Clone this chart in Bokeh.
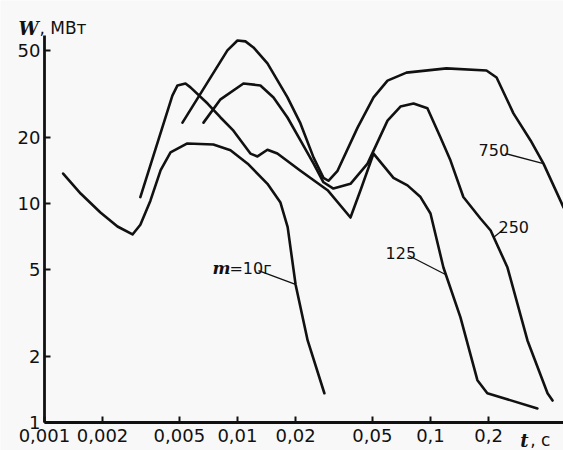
from bokeh.plotting import figure
from bokeh.models import FixedTicker, CustomJSTickFormatter, Label, Range1d
from bokeh.embed import file_html
from bokeh.resources import INLINE

# ---- data (t in s, W in MW) ----
t_m10 = [0.00125, 0.00154, 0.00195, 0.00239, 0.00286, 0.00314, 0.00354, 0.0040, 0.0045,
         0.0055, 0.0075, 0.0092, 0.0113, 0.0143, 0.0167, 0.0182, 0.0200, 0.0231, 0.0282]
W_m10 = [13.7, 11.1, 9.1, 7.85, 7.22, 8.0, 10.3, 14.2, 17.1,
         18.8, 18.6, 17.5, 15.2, 12.3, 10.1, 7.8, 4.27, 2.37, 1.36]

t_125 = [0.00314, 0.0046, 0.00489, 0.00538, 0.00571, 0.0070, 0.00817, 0.00953, 0.01167,
         0.0127, 0.0143, 0.0161, 0.0212, 0.0293, 0.0385, 0.0434, 0.0507, 0.0643, 0.0760,
         0.0888, 0.100, 0.1167, 0.143, 0.175, 0.197, 0.358]
W_125 = [10.7, 31.1, 34.6, 35.3, 33.9, 28.6, 24.7, 21.5, 16.9,
         16.4, 17.6, 16.9, 14.1, 11.5, 8.63, 11.5, 16.9, 13.1, 12.1,
         10.7, 9.0, 5.1, 3.02, 1.56, 1.36, 1.16]

t_250 = [0.00667, 0.00817, 0.01074, 0.01315, 0.01537, 0.01816, 0.0212, 0.0248, 0.0279,
         0.0314, 0.0385, 0.0472, 0.0599, 0.0699, 0.0817, 0.0964, 0.1127, 0.127, 0.148,
         0.1815, 0.205, 0.2506, 0.318, 0.404, 0.429]
W_250 = [23.4, 29.9, 35.3, 34.6, 30.5, 24.7, 19.4, 15.2, 12.5,
         11.7, 12.3, 15.2, 23.9, 27.7, 28.6, 27.2, 20.0, 15.7, 10.7,
         8.54, 7.53, 5.1, 2.37, 1.36, 1.26]

t_750 = [0.00519, 0.00887, 0.0100, 0.0110, 0.0121, 0.0143, 0.01816, 0.0212, 0.0248, 0.0279,
         0.0296, 0.033, 0.0419, 0.0507, 0.0599, 0.0751, 0.121, 0.195, 0.220, 0.269,
         0.330, 0.385, 0.489]
W_750 = [23.4, 50.0, 55.5, 55.0, 51.6, 43.6, 30.5, 23.2, 16.2, 13.1,
         12.7, 14.1, 22.2, 30.5, 36.4, 39.6, 41.4, 40.5, 37.6, 25.8,
         19.4, 15.2, 9.6]

x_ticks = [0.001, 0.002, 0.005, 0.01, 0.02, 0.05, 0.1, 0.2]
y_ticks = [1, 2, 5, 10, 20, 50]

# axis extents (data units)
x_axis_span = (0.001, 0.489)
y_axis_span = (1, 58.5)

# curve labels: text, anchor t, anchor W
lab_text = ["125", "250", "750"]
lab_t = [0.0585, 0.2250, 0.1774]
lab_W = [5.97, 7.77, 17.46]
# m = 10 g label anchor
m_lab_t = 0.00742
m_lab_W = 5.05
# leader lines (from label to curve)
lead_t = [[0.01285, 0.01998], [0.0769, 0.1196], [0.2388, 0.2119], [0.2448, 0.385]]
lead_W = [[4.94, 4.27], [5.79, 4.74], [7.6, 7.0], [16.9, 15.2]]
# axis titles anchors
w_title_t, w_title_W = 0.000733, 63.0
t_title_t, t_title_W = 0.292, 0.83

INK = "#111111"
BG = "#f8f8f8"

p = figure(width=563, height=450, x_axis_type="log", y_axis_type="log",
           x_range=Range1d(0.000592, 0.4888), y_range=Range1d(0.745, 84.5),
           output_backend="svg", toolbar_location=None, title=None,
           min_border_left=0, min_border_right=0, min_border_top=0, min_border_bottom=0)
p.background_fill_color = BG
p.border_fill_color = BG
p.outline_line_color = None
p.xgrid.visible = False
p.ygrid.visible = False

p.xaxis.fixed_location = y_axis_span[0]
p.yaxis.fixed_location = x_axis_span[0]
p.xaxis.bounds = x_axis_span
p.yaxis.bounds = y_axis_span

p.xaxis.ticker = FixedTicker(ticks=x_ticks, minor_ticks=[])
p.yaxis.ticker = FixedTicker(ticks=y_ticks, minor_ticks=[])
p.xaxis.formatter = CustomJSTickFormatter(code="return String(tick).replace('.', ',');")
p.yaxis.formatter = CustomJSTickFormatter(code="return String(tick);")

for ax in (p.xaxis[0], p.yaxis[0]):
    ax.axis_line_width = 2.8
    ax.axis_line_color = INK
    ax.major_tick_in = 6
    ax.major_tick_out = 0
    ax.major_tick_line_width = 2
    ax.major_tick_line_color = INK
    ax.minor_tick_line_color = None
    ax.major_label_text_font = "DejaVu Sans"
    ax.major_label_text_font_size = "18px"
    ax.major_label_text_color = INK
p.xaxis.major_label_standoff = 6
p.yaxis.major_label_standoff = 4

for tt, ww in ((t_m10, W_m10), (t_125, W_125), (t_250, W_250), (t_750, W_750)):
    p.line(tt, ww, line_width=2.6, line_color=INK, line_join="round", line_cap="round")

for tt, ww in zip(lead_t, lead_W):
    p.line(tt, ww, line_width=1.3, line_color=INK)

for txt, tx, wy in zip(lab_text, lab_t, lab_W):
    p.add_layout(Label(x=tx, y=wy, text=txt, text_font="DejaVu Sans", text_font_size="16px",
                       text_color=INK, text_baseline="alphabetic", text_align="left"))

p.add_layout(Label(x=m_lab_t, y=m_lab_W, text="m", text_font="DejaVu Serif",
                   text_font_style="bold italic", text_font_size="17px", text_color=INK,
                   text_baseline="alphabetic"))
p.add_layout(Label(x=m_lab_t, y=m_lab_W, x_offset=17, text="=10г", text_font="DejaVu Sans",
                   text_font_size="16px", text_color=INK, text_baseline="alphabetic"))

# axis titles
p.add_layout(Label(x=w_title_t, y=w_title_W, text="W", text_font="DejaVu Serif",
                   text_font_style="bold italic", text_font_size="18px", text_color=INK,
                   text_baseline="alphabetic"))
p.add_layout(Label(x=w_title_t, y=w_title_W, x_offset=21, text=", МВт", text_font="DejaVu Sans",
                   text_font_size="17px", text_color=INK, text_baseline="alphabetic"))
p.add_layout(Label(x=t_title_t, y=t_title_W, text="t", text_font="DejaVu Serif",
                   text_font_style="bold italic", text_font_size="18px", text_color=INK,
                   text_baseline="alphabetic"))
p.add_layout(Label(x=t_title_t, y=t_title_W, x_offset=10, text=", с", text_font="DejaVu Sans",
                   text_font_size="17px", text_color=INK, text_baseline="alphabetic"))

open("out.html", "w").write(file_html(p, INLINE))
